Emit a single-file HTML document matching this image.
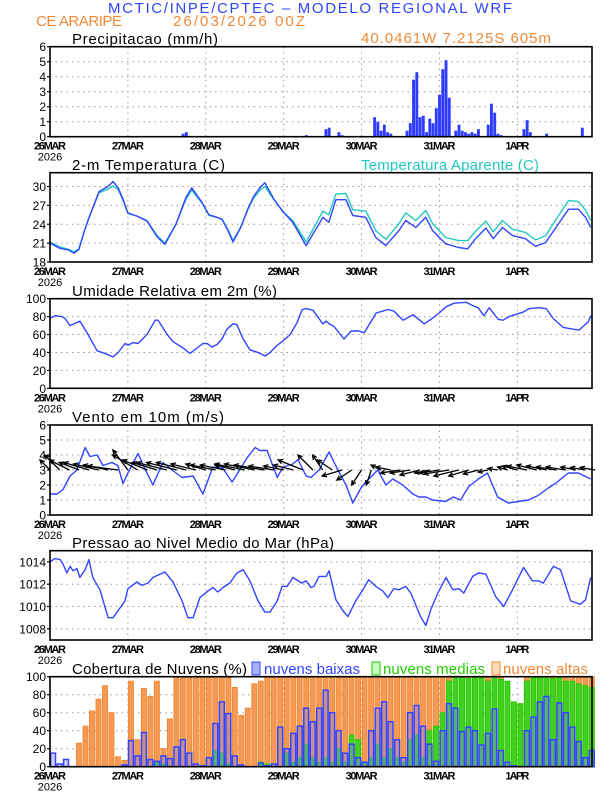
<!DOCTYPE html>
<html><head><meta charset="utf-8">
<style>
html,body{margin:0;padding:0;background:#fff;}
svg{display:block;font-family:"Liberation Sans",sans-serif;}
</style></head>
<body>
<svg id="chart" width="612" height="792" viewBox="0 0 612 792" xmlns="http://www.w3.org/2000/svg">
<text x="108" y="13" font-size="15" fill="#3344ff" textLength="404">MCTIC/INPE/CPTEC – MODELO REGIONAL WRF</text>
<text x="36" y="26" font-size="15" fill="#f08a38" textLength="86">CE ARARIPE</text>
<text x="173" y="26" font-size="15" fill="#f08a38" textLength="132">26/03/2026 00Z</text>
<text x="361" y="43" font-size="15" fill="#f08a38" textLength="190">40.0461W 7.2125S 605m</text>
<text x="72" y="44" font-size="15" fill="#000" textLength="146">Precipitacao (mm/h)</text>
<text x="72" y="170" font-size="15" fill="#000" textLength="153">2-m Temperatura (C)</text>
<text x="361" y="170" font-size="15" fill="#22c8c0" textLength="178">Temperatura Aparente (C)</text>
<text x="72" y="296" font-size="15" fill="#000" textLength="205">Umidade Relativa em 2m (%)</text>
<text x="72" y="422" font-size="15" fill="#000" textLength="152">Vento em 10m (m/s)</text>
<text x="72" y="548" font-size="15" fill="#000" textLength="262">Pressao ao Nivel Medio do Mar (hPa)</text>
<text x="72" y="674" font-size="15" fill="#000" textLength="175">Cobertura de Nuvens (%)</text>
<rect x="252" y="662" width="8" height="13" fill="#aab0ff" stroke="#3344ff"/>
<text x="264" y="674" font-size="15" fill="#3344ff" textLength="96">nuvens baixas</text>
<rect x="372" y="662" width="8" height="13" fill="#c8ffc0" stroke="#22cc00"/>
<text x="383" y="674" font-size="15" fill="#22cc00" textLength="102">nuvens medias</text>
<rect x="492" y="662" width="8" height="13" fill="#ffd8b8" stroke="#f08a38"/>
<text x="503" y="674" font-size="15" fill="#f08a38" textLength="85">nuvens altas</text>
<g id="plots"></g>
</svg>
<script>
// ---------- data ----------
const dayLabels = ["26MAR","27MAR","28MAR","29MAR","30MAR","31MAR","1APR"];
const precipHours = [41,42,79,85,86,89,90,100,101,102,103,104,105,110,111,112,113,114,115,116,117,118,119,120,121,122,123,125,126,127,128,129,130,131,132,135,136,137,138,139,146,147,148,153,164];
const precipValues = [0.2,0.3,0.1,0.5,0.6,0.3,0.1,1.3,1.0,0.4,0.8,0.3,0.2,0.4,0.9,3.8,4.3,1.3,1.4,0.3,1.2,0.9,1.9,2.8,4.5,5.1,2.6,0.4,0.8,0.4,0.3,0.2,0.3,0.2,0.5,0.8,2.2,1.6,0.2,0.1,0.5,1.1,0.3,0.2,0.6];
const precipTicks = [0,1,2,3,4,5,6];

const tempHours = [0,3,5.8,7.4,8.9,10.5,12,15.1,17.9,19.4,21,22.5,24,26.8,29.9,33,35.4,38.8,41.9,43.7,46.8,49,50.8,53,54.8,56.4,58.8,61,62.8,65,66.2,69,71.8,74.8,78.9,84.1,85.9,88.1,91.2,93.3,97.3,100.4,103.5,107.5,109.6,112.7,115.8,117.9,121.9,125.9,128.7,131.1,134.3,136.6,139.4,142.5,146.5,149.6,152.7,156.7,159.8,162.8,165,166.6];
const tempValues = [21.0,20.2,19.9,19.4,20.0,22.8,25.0,29.2,30.0,30.8,29.8,28.0,25.8,25.3,24.5,22.0,20.8,24.0,28.3,29.8,27.5,25.5,25.2,24.8,23.0,21.2,23.5,26.5,28.5,30.0,30.6,28.0,26.0,24.3,20.6,25.1,24.3,27.9,27.9,25.4,25.1,21.9,20.6,23.0,24.6,23.5,25.1,23.0,20.9,20.3,20.1,21.7,23.4,21.7,23.5,22.2,21.7,20.5,21.1,24.1,26.4,26.4,25.1,23.5];
const apparentValues = [21.2,20.4,20.0,19.6,20.1,22.8,25.0,29.0,29.6,30.1,29.5,27.8,25.7,25.3,24.6,22.2,21.0,24.0,28.0,29.4,27.4,25.4,25.2,24.8,23.2,21.4,23.6,26.4,28.2,29.6,30.0,27.9,26.0,24.6,21.2,26.1,25.5,28.8,28.9,26.3,26.1,23.0,21.6,24.1,25.8,24.6,26.2,24.1,21.9,21.4,21.4,22.9,24.5,22.8,24.6,23.2,22.7,21.5,22.2,25.4,27.8,27.6,26.3,24.6];
const tempTicks = [18,21,24,27,30];

const humHours = [0,1.5,3.7,4.6,6.2,9.2,11.7,14.5,17.6,19.4,21,23.1,24,25.6,27.1,29.9,32.4,33.3,36.1,37.9,41,43.1,45.3,47.1,48.4,49.9,51.5,53,54.5,56.4,57.6,59.5,61.6,64.1,66.3,67.8,70,71.8,74,76.1,77.7,78.9,81,84.1,85.1,86,87.5,90.6,92.8,95.2,96.8,100.5,104.2,106,108.8,111.9,115.3,117.4,119.9,122,124.5,128.2,130.4,131.9,133.7,135.3,138.1,139.6,141.4,145.8,147.6,150.7,152.9,155,158.1,161.2,163,165.8,166.7];
const humValues = [78,81,80,78,70,75,60,42,38,35,40,50,48,51,50,60,76,76,60,52,45,39,45,50,50,46,49,55,66,72,71,55,43,40,36,40,48,53,60,73,88,89,87,72,75,72,69,55,64,64,62,84,88,86,76,82,72,77,84,91,95,96,92,90,81,90,77,76,80,85,89,90,89,78,68,66,65,74,81];
const humTicks = [0,20,40,60,80,100];

const windHours = [0,2.2,4,6.2,8.3,10.8,12.3,14.5,16.3,19.1,20.9,22.5,24,27.1,29.9,31.7,34.8,37.6,40.7,44.1,47.1,50.2,53.3,56.1,60.7,63.2,64.7,66.9,70,71.8,74.8,76.4,78.9,80.4,82.9,86,88.7,91.2,93.3,95.8,97.3,101,103.5,105.6,108.7,111.8,113.6,115.8,117.9,121.9,124.3,126.5,129,132,134.8,137.9,141.2,144.3,147.4,150.4,153.5,155.7,159.7,162.8,165.6,166.6];
const windSpeed = [1.4,1.4,1.7,2.6,3.0,4.5,3.9,4.0,3.3,3.5,3.3,2.1,2.8,4.1,2.8,2.0,3.5,3.0,2.5,2.6,1.4,3.2,3.1,2.2,3.8,4.5,4.3,4.3,2.5,3.2,3.4,3.7,2.6,2.5,3.0,4.2,3.0,2.0,0.8,1.8,2.2,3.0,2.0,2.4,2.0,1.4,1.2,1.2,1.0,0.9,1.2,1.0,1.9,2.4,2.8,1.2,0.8,0.9,1.0,1.3,1.8,2.1,2.8,2.8,2.5,2.4];
// wind vector components, every 3 hours (0..168)
const windU = [-2,-3,-4,-4,-5,-5,-5,-6, -3,-5,-5,-5,-6,-6,-6,-5, -4,-5,-5,-4,-6,-6,-6,-5, -4,-4,-5,-3,-2,-3,-4,-3, -2,-1,-2,-3,-4,-4,-4,-3, -4,-5,-5,-4,-3,-2,-2,-2, -3,-4,-4,-4,-4,-4,-3,-3,-3];
const windV = [2,3,2,1.5,1.5,1.2,1,0.8, 4,3,2,1.5,1.5,1.5,1.5,1.2, 1.2,1,1,1,1.2,1.2,1,0.8, 0.8,1,2,3,3,2,-1.2,-2, -3,-3,1,0.6,-0.6,-0.6,-1,-0.6, -0.6,-0.8,-1.2,-1.2,-0.8,-0.4,0.3,0.6, 0.8,0.8,1.0,0.8,0.6,0.6,0.6,0.5,0.5];
const windTicks = [0,1,2,3,4,5,6];

const presHours = [0,1.5,3.1,4,5.2,6.2,7.1,8.3,9.2,10.8,12,13.2,15.4,17.9,19.4,20.9,23.1,24,26.8,28.3,30.2,31.7,35.4,37.9,40.7,42.5,44.1,46.2,48.7,50.2,51.7,53.3,55.4,57.6,59.5,61.6,64.1,66.2,67.8,70,71.5,73.1,74.8,77.6,78.9,80.4,81.3,82.9,85.1,86,88.1,90.3,91.8,94.2,96.4,98.2,100.4,102.5,104.1,105.9,107.5,109.6,111.2,113.3,114.2,115.8,117.3,119.5,122,124.1,126,127.5,130.2,132.1,134.3,137.3,139.8,142.5,145.9,148.6,150.5,152,155.1,157.3,160.4,163.4,165,166.6];
const presValues = [1014.0,1014.3,1014.2,1013.8,1013.0,1013.6,1013.2,1013.4,1012.6,1013.3,1014.2,1012.6,1011.5,1009.0,1009.0,1009.6,1010.5,1011.6,1012.2,1011.9,1012.1,1012.6,1013.1,1012.2,1010.5,1009.0,1009.0,1010.8,1011.4,1011.7,1011.3,1011.7,1012.1,1013.0,1013.3,1012.3,1010.5,1009.5,1009.5,1010.5,1011.8,1011.8,1012.6,1012.1,1012.3,1011.7,1011.8,1012.7,1012.7,1013.2,1010.6,1009.6,1009.1,1010.5,1011.5,1012.4,1011.8,1011.4,1010.8,1011.6,1011.5,1011.8,1011.2,1009.7,1009.1,1008.3,1009.7,1011.2,1012.6,1011.5,1011.6,1011.2,1012.7,1013.0,1012.9,1010.9,1010.0,1011.5,1013.5,1012.3,1012.3,1012.1,1013.6,1013.3,1010.5,1010.2,1010.6,1012.6];
const presTicks = [1008,1010,1012,1014];

// cloud cover, every 2 hours
const cloudHigh = [0,0,0,0,26,45,62,75,90,60,11,7,95,30,87,78,95,20,53,100,100,100,100,100,100,100,100,100,88,57,65,92,95,100,100,100,100,100,100,100,100,100,100,100,100,100,100,100,100,100,100,100,100,100,100,100,100,100,100,100,100,100,100,100,100,100,100,100,100,100,75,68,70,100,100,100,100,100,100,100,100,100,100,100];
const cloudMid = [0,0,0,0,0,0,0,0,0,0,0,0,0,0,0,0,5,3,0,0,0,0,0,0,0,18,15,3,0,0,0,0,5,3,0,0,15,5,10,25,10,5,10,5,20,5,35,30,5,10,25,10,20,10,5,30,35,10,40,45,60,95,100,100,98,100,100,95,100,97,95,72,70,95,100,100,100,98,100,95,95,92,90,88];
const cloudLow = [15,3,8,0,0,0,0,0,0,0,0,2,29,12,38,8,6,12,9,22,30,15,3,1,10,48,72,59,12,2,0,0,4,1,3,44,20,37,45,65,50,65,85,60,40,15,25,10,5,40,65,72,50,30,10,60,68,45,25,6,40,70,65,39,44,40,24,37,64,18,5,1,0,40,55,72,78,30,71,60,44,28,10,18];
const cloudTicks = [0,20,40,60,80,100];

// ---------- drawing ----------
const NS = "http://www.w3.org/2000/svg";
const g = document.getElementById("plots");
const X0 = 50, X1 = 592, HMAX = 167;
function xs(h){ return X0 + h * (X1 - X0) / HMAX; }
function mk(tag, attrs, parent){
  const el = document.createElementNS(NS, tag);
  for (const k in attrs) el.setAttribute(k, attrs[k]);
  (parent || g).appendChild(el);
  return el;
}
function panel(name, top, bot, vmin, vmax, ticks){
  const ys = v => bot - (v - vmin) / (vmax - vmin) * (bot - top);
  const pg = mk("g", {});
  
  
  ticks.forEach(t => {
    if (t === vmin) return;
    const l = mk("line", {x1:X0, x2:X1, y1:ys(t), y2:ys(t), stroke:"#999", "stroke-width":1, "stroke-dasharray":"1.5,4"}, pg);
    
    
  });
  dayLabels.forEach((d, i) => {
    const x = xs(i * 24);
    if (i > 0) {
      const l = mk("line", {x1:x, x2:x, y1:top, y2:bot, stroke:"#999", "stroke-width":1, "stroke-dasharray":"1.5,4"}, pg);
      
      
    }
    const t = mk("text", {x:x, y:bot + 13, "font-size":11, "font-weight":"bold", "text-anchor":"middle", textLength: d.length > 4 ? 32 : 24, fill:"#000"}, pg);
    t.textContent = d;
    
    
  });
  const yr = mk("text", {x:X0, y:bot + 24, "font-size":11, "text-anchor":"middle", fill:"#000"}, pg);
  yr.textContent = "2026";
  
  
  ticks.forEach(t => {
    const tl = mk("text", {x:46, y:ys(t) + 4.5, "font-size":12, "text-anchor":"end", fill:"#000"}, pg);
    tl.textContent = t;
    
    
    mk("line", {x1:X0 - 3, x2:X0, y1:ys(t), y2:ys(t), stroke:"#000", "stroke-width":1.2}, pg);
  });
  return {ys, top, bot, pg};
}
function frame(p, name){
  const r = mk("rect", {x:X0, y:p.top, width:X1 - X0, height:p.bot - p.top, fill:"none", stroke:"#000", "stroke-width":1.6});
  
  
}
function line(hours, vals, ys, color, name){
  const pts = [];
  const n = Math.min(hours.length, vals.length);
  for (let i = 0; i < n; i++) pts.push(xs(hours[i]).toFixed(1) + "," + ys(vals[i]).toFixed(1));
  const pl = mk("polyline", {points:pts.join(" "), fill:"none", stroke:color, "stroke-width":1.4, "stroke-linejoin":"round"});
  
  
}

// precipitation
const pP = panel("precip", 46.7, 136.7, 0, 6, precipTicks);
precipHours.forEach((h, i) => {
  const y = pP.ys(precipValues[i]);
  const b = mk("rect", {x:xs(h) - 1.4, y:y, width:2.9, height:pP.bot - y, fill:"#2f3cff"});
  
  
});
frame(pP, "precip");

// temperature
const pT = panel("temp", 172.7, 262, 18, 32.2, tempTicks);
line(tempHours, apparentValues, pT.ys, "#22c8c0", "apparent-temp-line");
line(tempHours, tempValues, pT.ys, "#3344ff", "temp-line");
frame(pT, "temp");

// humidity
const pH = panel("humidity", 298.7, 388.3, 0, 100, humTicks);
line(humHours, humValues, pH.ys, "#3344ff", "humidity-line");
frame(pH, "humidity");

// wind
const pW = panel("wind", 425, 515, 0, 6, windTicks);
line(windHours, windSpeed, pW.ys, "#3344ff", "wind-speed-line");
const y3 = pW.ys(3), K = 5;
windU.forEach((u, i) => {
  const v = windV[i];
  const x0 = xs(i * 3), x1 = x0 + u * K, y1 = y3 - v * K;
  const ang = Math.atan2(y1 - y3, x1 - x0);
  const a1 = ang + Math.PI - 0.45, a2 = ang + Math.PI + 0.45;
  const d = `M${x0.toFixed(1)},${y3.toFixed(1)} L${x1.toFixed(1)},${y1.toFixed(1)} M${(x1 + 5*Math.cos(a1)).toFixed(1)},${(y1 + 5*Math.sin(a1)).toFixed(1)} L${x1.toFixed(1)},${y1.toFixed(1)} L${(x1 + 5*Math.cos(a2)).toFixed(1)},${(y1 + 5*Math.sin(a2)).toFixed(1)}`;
  const ar = mk("path", {d:d, fill:"none", stroke:"#000", "stroke-width":1.3});
  
  
});
frame(pW, "wind");

// pressure
const pR = panel("pressure", 550.7, 640, 1007, 1015, presTicks);
line(presHours, presValues, pR.ys, "#3344ff", "pressure-line");
frame(pR, "pressure");

// clouds
const pC = panel("cloud", 676.7, 766.7, 0, 100, cloudTicks);
const bw = 2 * (X1 - X0) / HMAX;
function cloudBars(vals, fill, stroke, name, sw){
  vals.forEach((v, i) => {
    if (v <= 0) return;
    const y = pC.ys(v);
    const b = mk("rect", {x:xs(i * 2) + 0.6, y:y, width:bw - 1.6, height:pC.bot - y, fill:fill, stroke:stroke, "stroke-width":sw});
    
    
  });
}
cloudBars(cloudHigh, "#f59a55", "#f08a38", "cloud-high-bar", 1);
cloudBars(cloudMid, "#44d022", "#22cc00", "cloud-mid-bar", 1);
cloudBars(cloudLow, "rgba(120,120,255,0.35)", "#3344ff", "cloud-low-bar", 1.5);
frame(pC, "cloud");
</script>
</body></html>
